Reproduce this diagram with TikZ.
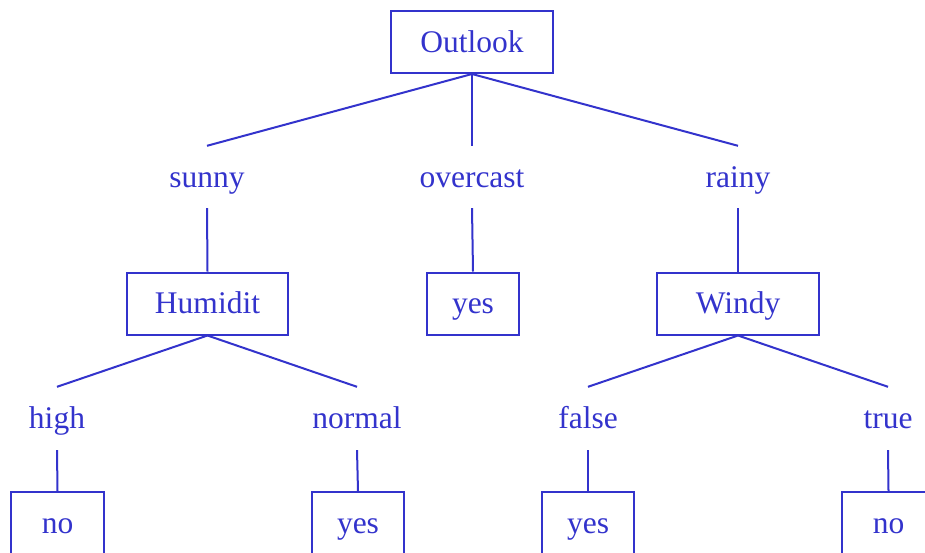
\documentclass[tikz,border=0pt]{standalone}
\usepackage{fontspec}
\setmainfont{Liberation Serif}
\definecolor{tc}{HTML}{3333CC}
\begin{document}
\begin{tikzpicture}[x=1pt,y=-1pt,
  every node/.style={text=tc,font=\fontsize{31.5}{36}\selectfont,inner sep=0pt,text height=24pt,text depth=4pt},
  box/.style={draw=tc,line width=2pt,minimum height=62pt},
  lab/.style={minimum height=62pt,minimum width=40pt},
  edge/.style={draw=tc,line width=2pt}]
\useasboundingbox (0,0) rectangle (925,552);
\node[box,minimum width=162pt] (outlook) at (472,42) {Outlook};
\node[lab] (sunny) at (207,177) {sunny};
\node[lab] (overcast) at (472,177) {overcast};
\node[lab] (rainy) at (738,177) {rainy};
\node[box,minimum width=161pt] (humid) at (207.5,303.5) {Humidit};
\node[box,minimum width=92pt] (yes1) at (473,303.5) {yes};
\node[box,minimum width=162pt] (windy) at (738,303.5) {Windy};
\node[lab,minimum height=63pt] (high) at (57,418.5) {high};
\node[lab,minimum height=63pt] (normal) at (357,418.5) {normal};
\node[lab,minimum height=63pt] (false) at (588,418.5) {false};
\node[lab,minimum height=63pt] (true) at (888,418.5) {true};
\node[box,minimum width=93pt] (no1) at (57.5,523) {no};
\node[box,minimum width=92pt] (yes2) at (358,523) {yes};
\node[box,minimum width=92pt] (yes3) at (588,523) {yes};
\node[box,minimum width=93pt] (no2) at (888.5,523) {no};
\draw[edge] (outlook.south) -- (sunny.north);
\draw[edge] (outlook.south) -- (overcast.north);
\draw[edge] (outlook.south) -- (rainy.north);
\draw[edge] (sunny.south) -- (humid.north);
\draw[edge] (overcast.south) -- (yes1.north);
\draw[edge] (rainy.south) -- (windy.north);
\draw[edge] (humid.south) -- (high.north);
\draw[edge] (humid.south) -- (normal.north);
\draw[edge] (windy.south) -- (false.north);
\draw[edge] (windy.south) -- (true.north);
\draw[edge] (high.south) -- (no1.north);
\draw[edge] (normal.south) -- (yes2.north);
\draw[edge] (false.south) -- (yes3.north);
\draw[edge] (true.south) -- (no2.north);
\end{tikzpicture}
\end{document}
